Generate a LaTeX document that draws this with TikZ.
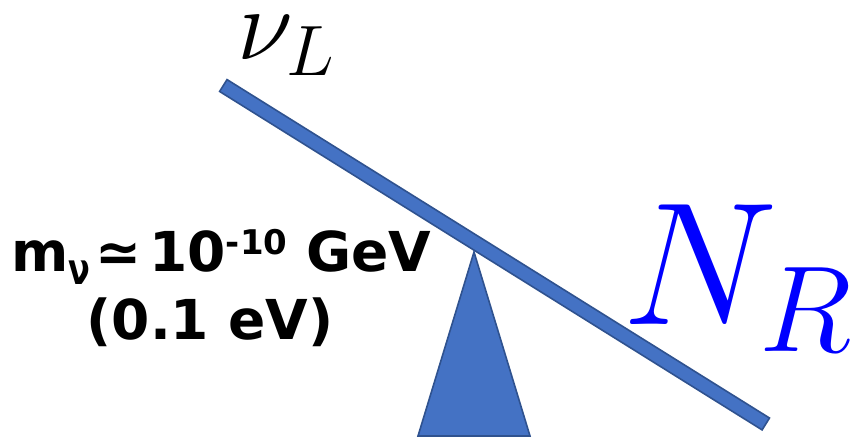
\documentclass[tikz,border=0pt]{standalone}
\usepackage{fix-cm}
\usepackage{fontspec}
\newfontfamily\dvs{DejaVu Sans}
\definecolor{beamfill}{HTML}{4472C4}
\definecolor{beamdraw}{HTML}{2F528F}
\begin{document}
\begin{tikzpicture}[x=1pt,y=1pt,
  part/.style={fill=beamfill,draw=beamdraw,line width=1.6pt,line join=miter},
  lbl/.style={anchor=base west,inner sep=0pt},
  masstxt/.style={inner sep=0pt,font=\dvs\bfseries\fontsize{55}{64}\selectfont}]
\useasboundingbox (0,0) rectangle (861,438);
% fulcrum
\coordinate (apex) at (474,186);
\coordinate (br) at (530,2);
\coordinate (bl) at (418,2);
\draw[part] (apex) -- (br) -- (bl) -- cycle;
% beam
\node[part,rectangle,minimum width=639.4pt,minimum height=14pt,inner sep=0pt,rotate=-31.96] (beam) at (494.55,183.25) {};
% labels
\node[lbl] (nuL) at (237,378) {\fontsize{102}{102}\selectfont$\nu_L$};
\node[lbl,text=blue] (NR) at (622,113) {\fontsize{175}{175}\selectfont$N_R$};
\node[masstxt,anchor=base west] (mass) at (11,166) {m\raisebox{-13pt}{\scalebox{1}[1.35]{\fontsize{32}{32}\selectfont ν}}\kern5pt≃\kern8pt10\raisebox{17pt}{\fontsize{34}{34}\selectfont -10} GeV};
\node[masstxt,anchor=base] (ev) at (210,98) {(0.1 eV)};
\end{tikzpicture}
\end{document}
